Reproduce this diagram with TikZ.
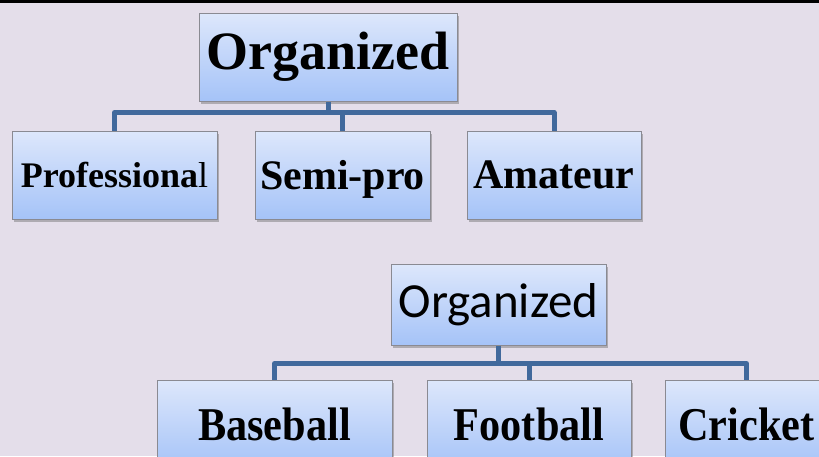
\documentclass[tikz,border=0pt]{standalone}
\usepackage{fontspec}
\setmainfont{Liberation Serif}
\newfontfamily\calibrifont{Carlito}
\usetikzlibrary{shadows}

\definecolor{bgcol}{HTML}{E4DEEA}
\definecolor{boxtop}{HTML}{DDE7FB}
\definecolor{boxbottom}{HTML}{A5C3F8}
\definecolor{boxedge}{HTML}{8A8A92}
\definecolor{linkcol}{HTML}{41699C}

\tikzset{
  catbox/.style={draw=boxedge, line width=1pt, top color=boxtop, bottom color=boxbottom,
    inner sep=0pt, align=center,
    drop shadow={shadow xshift=2pt, shadow yshift=-3pt, opacity=0.35, fill=black!70}},
  link/.style={draw=linkcol, line width=5pt, line join=round}
}

\begin{document}
\begin{tikzpicture}[x=1pt, y=-1pt]
  % canvas
  \useasboundingbox (0,0) rectangle (819,456);
  \fill[bgcol] (0,0) rectangle (819,456);
  \fill[black] (0,0) rectangle (819,3);

  % first hierarchy
  \node[catbox, minimum width=258pt, minimum height=88pt] (orgA) at (328,57)
    {\fontsize{54}{60}\selectfont\bfseries Organized};
  \node[catbox, minimum width=205pt, minimum height=88pt] (pro) at (114.5,175)
    {\fontsize{36}{40}\selectfont\textbf{Professiona}l};
  \node[catbox, minimum width=175pt, minimum height=88pt] (semi) at (342.5,175)
    {\raisebox{-4pt}[\height][\depth]{\fontsize{42}{46}\selectfont\bfseries Semi-pro}};
  \node[catbox, minimum width=174pt, minimum height=88pt] (amat) at (554,175)
    {\fontsize{42}{46}\selectfont\bfseries Amateur};

  \coordinate (busA) at (0,112.5);
  \draw[link] (pro.north) |- (amat.north |- busA) -- (amat.north);
  \draw[link] (orgA.south) -- (orgA.south |- busA);
  \draw[link] (semi.north) -- (semi.north |- busA);

  % second hierarchy
  \node[catbox, minimum width=215pt, minimum height=81pt] (orgB) at (498.5,304.5)
    {\calibrifont\fontsize{49}{54}\selectfont Organized};
  \node[catbox, minimum width=235pt, minimum height=88pt] (base) at (274.5,424)
    {\scalebox{0.9}[1]{\fontsize{47}{50}\selectfont\bfseries Baseball}};
  \node[catbox, minimum width=204pt, minimum height=88pt] (foot) at (529,424)
    {\scalebox{0.9}[1]{\fontsize{47}{50}\selectfont\bfseries Football}};
  \node[catbox, minimum width=163pt, minimum height=88pt] (crick) at (746.5,424)
    {\scalebox{0.9}[1]{\fontsize{47}{50}\selectfont\bfseries Cricket}};

  \coordinate (busB) at (0,363.5);
  \draw[link] (base.north) |- (crick.north |- busB) -- (crick.north);
  \draw[link] (orgB.south) -- (orgB.south |- busB);
  \draw[link] (foot.north) -- (foot.north |- busB);
\end{tikzpicture}
\end{document}
